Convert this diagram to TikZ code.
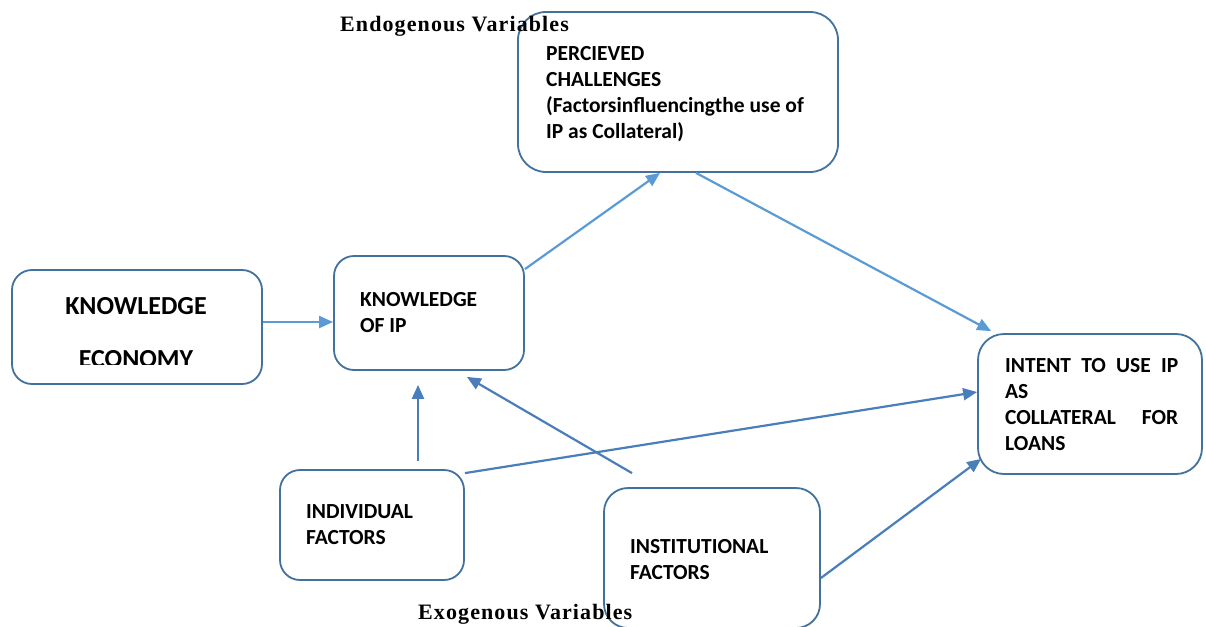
\documentclass[tikz,border=0pt]{standalone}
\usepackage{fontspec}
\newfontfamily\boxfont{Carlito}
\newfontfamily\labfont{Liberation Serif}[LetterSpace=5]
\usetikzlibrary{arrows.meta,calc}
\definecolor{boxline}{HTML}{41719C}
\definecolor{lightarr}{HTML}{5B9BD5}
\definecolor{darkarr}{HTML}{4A7EBB}
\tikzset{
  box/.style={draw=boxline, line width=1.8pt, fill=white, inner sep=0pt},
  boxtext/.style={font=\boxfont\bfseries\fontsize{21.5}{26}\selectfont, align=left, inner sep=0pt, anchor=north west},
  la/.style={draw=lightarr, line width=2.2pt, -{Triangle[length=14pt,width=12pt]}},
  da/.style={draw=darkarr, line width=2.2pt, -{Triangle[length=14pt,width=12pt]}},
  varlabel/.style={font=\labfont\bfseries\fontsize{22}{26}\selectfont, inner sep=0pt, anchor=base west}
}
\begin{document}
\begin{tikzpicture}[x=1pt,y=-1pt]
\useasboundingbox (0,0) rectangle (1206,626);
% boxes
\node[box, rounded corners=28pt, minimum width=320pt, minimum height=160pt] (pc) at (678,92) {};
\node[box, rounded corners=20pt, minimum width=250pt, minimum height=114pt] (ke) at (137,327) {};
\node[box, rounded corners=20pt, minimum width=190pt, minimum height=114pt] (kip) at (429,313) {};
\node[box, rounded corners=26pt, minimum width=224pt, minimum height=140pt] (intent) at (1090,404) {};
\node[box, rounded corners=20pt, minimum width=184pt, minimum height=110pt] (ind) at (372,525) {};
\node[box, rounded corners=24pt, minimum width=216pt, minimum height=140pt] (inst) at (712,558) {};
% texts
\node[boxtext] (pct) at (546,46) {PERCIEVED\\CHALLENGES\\(Factorsinfluencingthe use of\\IP as Collateral)};
\begin{scope}
\clip (0,0) rectangle (1206,364);
\node[font=\boxfont\bfseries\fontsize{26}{53}\selectfont, align=center, inner sep=0pt, anchor=north] (ket) at (136,297) {KNOWLEDGE\\ECONOMY};
\end{scope}
\node[boxtext] (kipt) at (360,292) {KNOWLEDGE\\OF IP};
\node[boxtext] (intentt) at (1005,358) {\makebox[173pt][s]{INTENT TO USE IP}\\AS\\\makebox[173pt][s]{COLLATERAL FOR}\\LOANS};
\node[boxtext] (indt) at (306,504) {INDIVIDUAL\\FACTORS};
\node[boxtext] (instt) at (630,539) {INSTITUTIONAL\\FACTORS};
% connectors
\draw[la] ($(ke.east)+(0,-5)$) -- ($(kip.west)+(0,9)$);
\draw[la] ($(kip.north east)+(0,14)$) -- ($(pc.south)+(-18,0)$);
\draw[la] ($(pc.south)+(18,0)$) -- ($(intent.north west)+(14,-2)$);
\draw[da] ($(ind.north)+(46,-8)$) -- ($(kip.south)+(-11,14)$);
\draw[da] ($(inst.north)+(-80,-14)$) -- ($(kip.south east)+(-58,6)$);
\draw[da] ($(ind.north east)+(0,4)$) -- ($(intent.west)+(0,-12)$);
\draw[da] ($(inst.east)+(0,20)$) -- ($(intent.south west)+(4,-16)$);
% variable labels
\node[varlabel] (endo) at (340,32) {Endogenous Variables};
\node[varlabel] (exo) at (418,619) {Exogenous Variables};
\end{tikzpicture}
\end{document}
